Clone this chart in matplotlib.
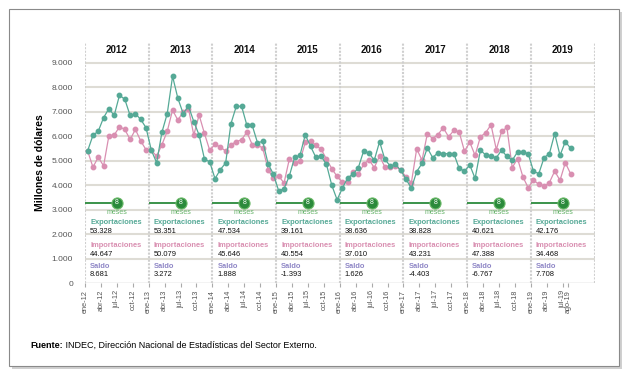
import matplotlib
matplotlib.use("Agg")
import matplotlib.pyplot as plt
from matplotlib.patches import Rectangle

plt.rcParams['font.family'] = ['Liberation Sans', 'DejaVu Sans']

years = [2012, 2013, 2014, 2015, 2016, 2017, 2018, 2019]
mes_abbr = ["ene", "feb", "mar", "abr", "may", "jun", "jul", "ago", "sep", "oct", "nov", "dic"]

exportaciones = [
    5400, 6030, 6200, 6750, 7120, 6840, 7670, 7500, 6840, 6910, 6680, 6340,
    5420, 4910, 6160, 6920, 8440, 7540, 6920, 7220, 6590, 6040, 5070, 4940,
    4260, 4630, 4900, 6510, 7210, 7220, 6440, 6440, 5730, 5780, 4870, 4440,
    3760, 3850, 4370, 5130, 5210, 6050, 5580, 5130, 5170, 4840, 3990, 3400,
    3870, 4300, 4440, 4710, 5390, 5310, 5010, 5770, 5050, 4780, 4840, 4600,
    4230, 3870, 4550, 4880, 5520, 5120, 5320, 5280, 5280, 5280, 4680, 4570,
    4820, 4270, 5420, 5230, 5170, 5120, 5420, 5170, 5010, 5350, 5350, 5280,
    4570, 4460, 5120, 5280, 6100, 5210, 5770, 5500,
]
importaciones = [
    5390, 4730, 5140, 4780, 6010, 6040, 6380, 6270, 5860, 6270, 5800, 5440,
    5420, 5180, 5650, 6200, 7060, 6650, 6990, 7120, 6040, 6860, 6110, 5420,
    5660, 5550, 5390, 5650, 5770, 5850, 6160, 5650, 5650, 5500, 4630, 4270,
    4370, 4080, 5060, 4910, 4980, 5740, 5810, 5620, 5460, 5060, 4670, 4350,
    4110, 4110, 4550, 4440, 4840, 5040, 4710, 5180, 4740, 4740, 4780, 4600,
    4330, 4100, 5480, 5010, 6090, 5900, 6060, 6340, 5970, 6230, 6170, 5380,
    5750, 5210, 5970, 6140, 6460, 5450, 6190, 6350, 4710, 5080, 4340, 3890,
    4200, 4030, 3950, 4100, 4570, 4190, 4910, 4460,
]

expo_8m = ["53.328", "53.351", "47.534", "39.161", "38.636", "38.828", "40.621", "42.176"]
impo_8m = ["44.647", "50.079", "45.646", "40.554", "37.010", "43.231", "47.388", "34.468"]
saldo_8m = ["8.681", "3.272", "1.888", "-1.393", "1.626", "-4.403", "-6.767", "7.708"]

y_ticks = [0, 1000, 2000, 3000, 4000, 5000, 6000, 7000, 8000, 9000]
y_ticklabels = ["0", "1.000", "2.000", "3.000", "4.000", "5.000", "6.000", "7.000", "8.000", "9.000"]

GREEN = '#55a996'
PINK = '#d98fb1'
PURPLE = '#8e86c6'
DKGREEN = '#2b8a3b'
GRID = '#dedcd5'
SEP = '#cfcfcf'

fig = plt.figure(figsize=(6.3, 3.8), dpi=100)
fig.patch.set_facecolor('white')

# outer frame with shadow
fig.patches.append(Rectangle((12 / 630, 11 / 380), 610 / 630, 357 / 380, transform=fig.transFigure,
                             facecolor='#d0d0d0', edgecolor='none', zorder=0))
fig.patches.append(Rectangle((9 / 630, 14 / 380), 610 / 630, 357 / 380, transform=fig.transFigure,
                             facecolor='white', edgecolor='#8a8a8a', linewidth=0.8, zorder=1))

ax = fig.add_axes([85 / 630, (380 - 283) / 380, 509.5 / 630, 240 / 380])
ax.set_zorder(2)
ax.patch.set_alpha(0)

n = len(exportaciones)
x = list(range(n))
ax.set_xlim(-0.5, 95.5)
ax.set_ylim(0, 9800)

for v in y_ticks[1:]:
    ax.axhline(v, color=GRID, lw=1.5, zorder=1)
ax.axhline(0, color='#c4c4c4', lw=1.0, zorder=1)

for k in range(len(years) + 1):
    ax.axvline(12 * k - 0.5, color=SEP, lw=1.5, ls=(0, (1.0, 0.7)), zorder=1)

ax.plot(x, importaciones, color=PINK, lw=0.9, marker='o', ms=3.2, zorder=3)
ax.plot(x, exportaciones, color=GREEN, lw=0.9, marker='o', ms=3.2, zorder=4)

FS_LAB = 5.4
FS_NUM = 5.4
for k, yr in enumerate(years):
    x0 = 12 * k - 0.5
    xc = x0 + 6
    ax.text(xc, 9500, str(yr), ha='center', va='center', fontsize=7, fontweight='bold', color='#111111')
    ax.plot([x0, xc], [3270, 3270], color=DKGREEN, lw=1.3, zorder=5, solid_capstyle='butt')
    ax.plot([xc], [3270], marker='o', ms=8, color=DKGREEN, mec='#6dbb6a', mew=0.8, zorder=6)
    ax.text(xc, 3270, "8", ha='center', va='center', fontsize=5, color='white', zorder=7)
    ax.text(xc, 2860, "meses", ha='center', va='center', fontsize=5, color='#66b36a')
    tx = x0 + 0.95
    ax.text(tx, 2460, "Exportaciones", ha='left', va='center', fontsize=FS_LAB, color=GREEN, fontweight='bold')
    ax.text(tx, 2110, expo_8m[k], ha='left', va='center', fontsize=FS_NUM, color='#111111')
    ax.text(tx, 1520, "Importaciones", ha='left', va='center', fontsize=FS_LAB, color=PINK, fontweight='bold')
    ax.text(tx, 1170, impo_8m[k], ha='left', va='center', fontsize=FS_NUM, color='#111111')
    ax.text(tx, 665, "Saldo", ha='left', va='center', fontsize=FS_LAB, color=PURPLE, fontweight='bold')
    ax.text(tx, 345, saldo_8m[k], ha='left', va='center', fontsize=FS_NUM, color='#111111')

ax.set_yticks(y_ticks)
ax.set_yticklabels(y_ticklabels, fontsize=6, color='#555555')
ax.tick_params(axis='y', length=0, pad=8.5)

tick_pos = []
tick_lab = []
for i in range(n):
    m = i % 12
    if m in (0, 3, 6, 9) or i == n - 1:
        tick_pos.append(i - 0.5)
        tick_lab.append(f"{mes_abbr[m]}-{str(years[i // 12])[2:]}")
ax.set_xticks(tick_pos)
ax.set_xticklabels(tick_lab, rotation=90, fontsize=5.3, color='#555555')
ax.tick_params(axis='x', length=3, color='#aaaaaa', pad=2, width=0.8)

for s in ax.spines.values():
    s.set_visible(False)

ax.set_ylabel("Millones de dólares", fontsize=7.5, fontweight='bold', labelpad=5)

t1 = fig.text(30 / 630, 1 - 345 / 380, "Fuente:", fontsize=6.5, fontweight='bold', va='center', ha='left', zorder=3)
ax.annotate(" INDEC, Dirección Nacional de Estadísticas del Sector Externo.", xy=(1, 0.5), xycoords=t1,
            va='center', ha='left', fontsize=6.5, annotation_clip=False)

fig.savefig("out.png", dpi=100)
